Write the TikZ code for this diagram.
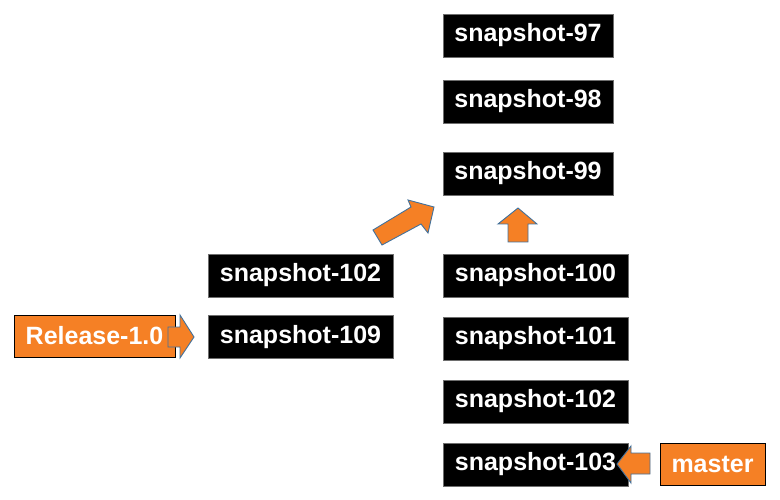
\documentclass[tikz,border=0pt]{standalone}
\usepackage{fontspec}
\setmainfont{Liberation Sans}
\definecolor{gorange}{RGB}{245,128,37}
\definecolor{gblue}{RGB}{65,113,156}
\definecolor{gedge}{RGB}{110,110,110}
\begin{document}
\begin{tikzpicture}[x=1pt,y=-1pt,
  snap/.style={fill=black, draw=gedge, line width=0.6pt, text=white, inner sep=0pt,
    minimum height=43pt, font=\fontsize{25}{29}\selectfont\bfseries},
  shortsnap/.style={snap, minimum width=170pt},
  longsnap/.style={snap, minimum width=185pt},
  tag/.style={fill=gorange, draw=black, line width=0.8pt, text=white, inner sep=0pt,
    minimum height=42pt, font=\fontsize{25}{29}\selectfont\bfseries},
  blockarrow/.style={fill=gorange, draw=gblue, line width=0.9pt, line join=miter}]
\useasboundingbox (0,0) rectangle (780,500);
\node[shortsnap] (s97) at (528,35.5) {snapshot-97};
\node[shortsnap] (s98) at (528,101.5) {snapshot-98};
\node[shortsnap] (s99) at (528,173.5) {snapshot-99};
\node[longsnap] (s100) at (535.5,275.5) {snapshot-100};
\node[longsnap] (s101) at (535.5,338.5) {snapshot-101};
\node[longsnap] (s102r) at (535.5,401.5) {snapshot-102};
\node[longsnap] (s103) at (535.5,464.5) {snapshot-103};
\node[longsnap] (s102l) at (300.5,275.5) {snapshot-102};
\node[longsnap] (s109) at (300.5,337) {snapshot-109};
\node[tag, minimum width=161pt] (rel) at (94.5,336) {Release-1.0};
\node[tag, minimum width=105pt] (master) at (712.5,464) {master};
% Release arrow
\draw[blockarrow] (168,327) -- (180,327) -- (180,315) -- (194,337) -- (180,358) -- (180,347) -- (168,347) -- cycle;
% master arrow
\draw[blockarrow] (650,453) -- (631,453) -- (631,446) -- (617,464) -- (631,483) -- (631,474) -- (650,474) -- cycle;
% up arrow
\draw[blockarrow] (508,242) -- (508,224) -- (498,224) -- (518,208) -- (537,224) -- (528,224) -- (528,242) -- cycle;
% diagonal arrow
\draw[blockarrow] (373,230) -- (411,207) -- (408,200) -- (434,207) -- (428,233) -- (421,224) -- (382,245) -- cycle;
\end{tikzpicture}
\end{document}
